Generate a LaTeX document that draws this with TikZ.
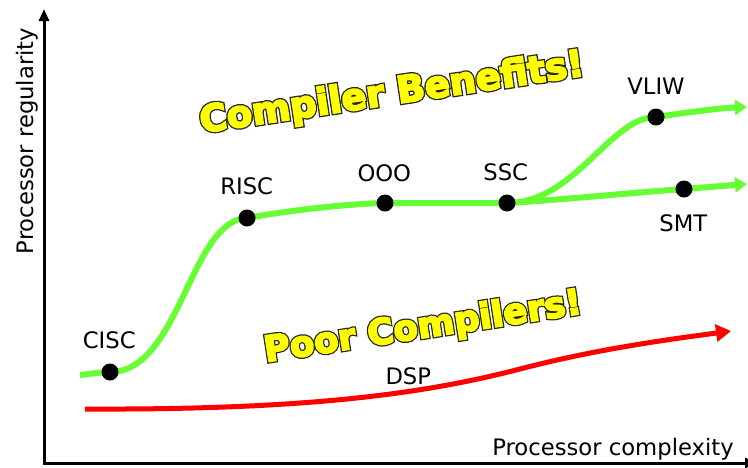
\documentclass[tikz,border=0pt]{standalone}
\usepackage{fontspec}
\setmainfont{DejaVu Sans}
% heavy slogan faces: a wider dark rim under a lighter yellow body
\newfontfamily\rimfont{DejaVu Sans Bold}[FakeBold=12]
\newfontfamily\bodyfont{DejaVu Sans Bold}[FakeBold=5]
\usetikzlibrary{arrows.meta}

\definecolor{curvegreen}{HTML}{66FF33}
\definecolor{curvered}{HTML}{FF0000}
\definecolor{bannerfill}{HTML}{FFFF00}

\begin{document}
\begin{tikzpicture}[x=1pt,y=-1pt,
  lbl/.style={font=\fontsize{22.7}{27}\selectfont, inner sep=0pt},
  milestone/.style={circle, fill=black, minimum size=17pt, inner sep=0pt},
  axisline/.style={line width=3pt, black, {Triangle[length=12pt,width=10pt]}-{Triangle[length=12pt,width=10pt]}},
  goodtrend/.style={line width=6pt, curvegreen, -{Triangle[length=12pt,width=15pt]}},
  badtrend/.style={line width=5pt, curvered, -{Triangle[length=15pt,width=17pt]}},
  rim/.style={inner sep=0pt, text=black!85, font=\fontsize{#1}{40}\rimfont},
  body/.style={inner sep=0pt, text=bannerfill, font=\fontsize{#1}{40}\bodyfont}
]
\useasboundingbox (0,0) rectangle (748,467);

% axes
\coordinate (ytop) at (44,9);
\coordinate (origin) at (44,463);
\coordinate (xend) at (757,463);
\draw[axisline] (ytop) -- (origin) -- (xend);
\node[lbl, rotate=90, anchor=base] (ylab) at (33,141) {Processor regularity};
\node[lbl, anchor=base] (xlab) at (613,455) {Processor complexity};

% milestones
\coordinate (gstart) at (80,375);
\coordinate (cisc) at (110,372);
\coordinate (risc) at (247,218);
\coordinate (ooo) at (385,203);
\coordinate (ssc) at (507,203);
\coordinate (smt) at (684,189);
\coordinate (smtend) at (747,184);
\coordinate (vliw) at (656,117);
\coordinate (vliwend) at (747,107);

% architectures that profit from compilers
\draw[goodtrend] (gstart) .. controls (92,374) and (100,372) .. (cisc)
  .. controls (180,372) and (190,220) .. (risc)
  .. controls (280,212) and (340,204) .. (ooo)
  -- (ssc)
  .. controls (560,200) and (640,192) .. (smt)
  -- (smtend);
\draw[goodtrend] (ssc) .. controls (575,203) and (610,117) .. (vliw)
  .. controls (690,112) and (720,108) .. (vliwend);

% DSP line
\coordinate (rstart) at (85,409);
\coordinate (rmid) at (520,369);
\coordinate (rend) at (731,331);
\draw[badtrend] (rstart) .. controls (300,410) and (420,395) .. (rmid)
  .. controls (600,348) and (680,338) .. (rend);

\node[milestone] (ciscdot) at (cisc) {};
\node[milestone] (riscdot) at (risc) {};
\node[milestone] (ooodot) at (ooo) {};
\node[milestone] (sscdot) at (ssc) {};
\node[milestone] (smtdot) at (smt) {};
\node[milestone] (vliwdot) at (vliw) {};

\node[lbl] (cisclab) at (109.3,340) {CISC};
\node[lbl] (risclab) at (246.7,186.7) {RISC};
\node[lbl] (ooolab) at (384.3,173.3) {OOO};
\node[lbl] (ssclab) at (505.7,172.7) {SSC};
\node[lbl] (vliwlab) at (656,86.7) {VLIW};
\node[lbl] (smtlab) at (683.3,223.3) {SMT};
\node[lbl] (dsplab) at (408.3,376.7) {DSP};

% slogans
\node[rim=37, rotate=8.5] (benefitsrim) at (392,94) {Compiler Benefits!};
\node[body=37, rotate=8.5] (benefits) at (benefitsrim) {Compiler Benefits!};
\node[rim=35.5, rotate=8.7] (poorrim) at (423,328) {Poor Compilers!};
\node[body=35.5, rotate=8.7] (poor) at (poorrim) {Poor Compilers!};
\end{tikzpicture}
\end{document}
